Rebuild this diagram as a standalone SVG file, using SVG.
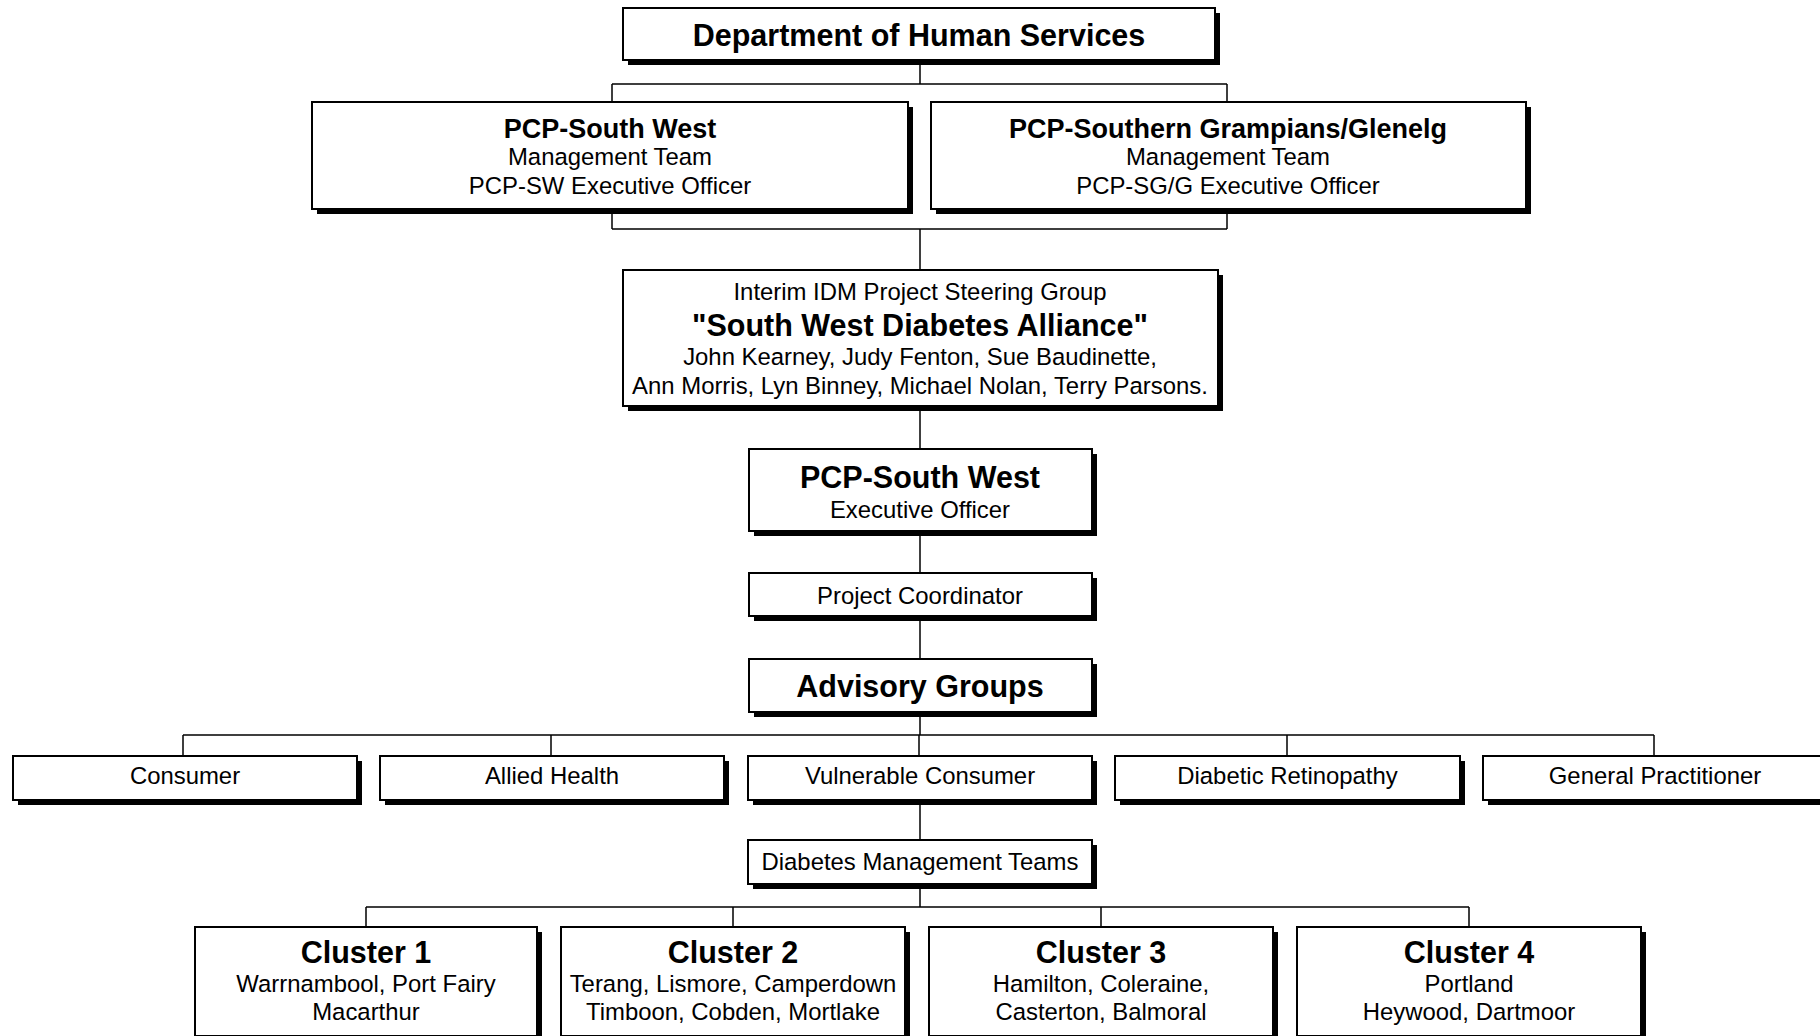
<svg xmlns="http://www.w3.org/2000/svg" width="1820" height="1036" viewBox="0 0 1820 1036">
<style>
.sh{fill:#000}
.bx{fill:#fff;stroke:#000;stroke-width:2}
.conn{fill:none;stroke:#000;stroke-width:1.5}
text{font-family:"Liberation Sans",Arial,Helvetica,sans-serif;text-anchor:middle;fill:#000}
.r{font-size:23.9px}
.b27{font-size:27px;font-weight:bold}
.b30{font-size:30.5px;font-weight:bold}
</style>
<rect width="1820" height="1036" fill="#fff"/>
<g id="connectors" class="conn">
<path d="M920 60V84M612 84H1227M612 84V102M1227 84V102"/>
<path d="M612 209V229M1227 209V229M612 229H1227M920 229V270"/>
<path d="M920 406V449"/>
<path d="M920 531V573"/>
<path d="M920 616V659"/>
<path d="M920 712V735M183 735H1654M183 735V756M551 735V756M919 735V756M1287 735V756M1654 735V756"/>
<path d="M920 800V840"/>
<path d="M920 884V907M366 907H1469M366 907V927M733 907V927M1101 907V927M1469 907V927"/>
</g>
<g id="dept">
<rect class="sh" x="628" y="13" width="592" height="52"/><rect class="bx" x="623" y="8" width="592" height="52"/>
<text class="b30" x="919" y="45.5">Department of Human Services</text>
</g>
<g id="pcp-sw">
<rect class="sh" x="317" y="107" width="596" height="107"/><rect class="bx" x="312" y="102" width="596" height="107"/>
<text class="b27" x="610" y="137.5">PCP-South West</text>
<text class="r" x="610" y="165">Management Team</text>
<text class="r" x="610" y="194">PCP-SW Executive Officer</text>
</g>
<g id="pcp-sg">
<rect class="sh" x="936" y="107" width="595" height="107"/><rect class="bx" x="931" y="102" width="595" height="107"/>
<text class="b27" x="1228" y="137.5">PCP-Southern Grampians/Glenelg</text>
<text class="r" x="1228" y="165">Management Team</text>
<text class="r" x="1228" y="194">PCP-SG/G Executive Officer</text>
</g>
<g id="steering">
<rect class="sh" x="628" y="275" width="595" height="136"/><rect class="bx" x="623" y="270" width="595" height="136"/>
<text class="r" x="920" y="299.5">Interim IDM Project Steering Group</text>
<text class="b30" x="920" y="336">"South West Diabetes Alliance"</text>
<text class="r" x="920" y="364.5">John Kearney, Judy Fenton, Sue Baudinette,</text>
<text class="r" x="920" y="393.5">Ann Morris, Lyn Binney, Michael Nolan, Terry Parsons.</text>
</g>
<g id="exec">
<rect class="sh" x="754" y="454" width="343" height="82"/><rect class="bx" x="749" y="449" width="343" height="82"/>
<text class="b30" x="920" y="488">PCP-South West</text>
<text class="r" x="920" y="518">Executive Officer</text>
</g>
<g id="coord">
<rect class="sh" x="754" y="578" width="343" height="43"/><rect class="bx" x="749" y="573" width="343" height="43"/>
<text class="r" x="920" y="603.5">Project Coordinator</text>
</g>
<g id="advisory">
<rect class="sh" x="754" y="664" width="343" height="53"/><rect class="bx" x="749" y="659" width="343" height="53"/>
<text class="b30" x="920" y="697">Advisory Groups</text>
</g>
<g id="consumer">
<rect class="sh" x="18" y="761" width="344" height="44"/><rect class="bx" x="13" y="756" width="344" height="44"/>
<text class="r" x="185" y="783.5">Consumer</text>
</g>
<g id="allied">
<rect class="sh" x="385" y="761" width="344" height="44"/><rect class="bx" x="380" y="756" width="344" height="44"/>
<text class="r" x="552" y="783.5">Allied Health</text>
</g>
<g id="vulnerable">
<rect class="sh" x="753" y="761" width="344" height="44"/><rect class="bx" x="748" y="756" width="344" height="44"/>
<text class="r" x="920" y="783.5">Vulnerable Consumer</text>
</g>
<g id="retinopathy">
<rect class="sh" x="1120" y="761" width="345" height="44"/><rect class="bx" x="1115" y="756" width="345" height="44"/>
<text class="r" x="1287.5" y="783.5">Diabetic Retinopathy</text>
</g>
<g id="gp">
<rect class="sh" x="1488" y="761" width="344" height="44"/><rect class="bx" x="1483" y="756" width="344" height="44"/>
<text class="r" x="1655" y="783.5">General Practitioner</text>
</g>
<g id="dmt">
<rect class="sh" x="753" y="845" width="344" height="44"/><rect class="bx" x="748" y="840" width="344" height="44"/>
<text class="r" x="920" y="869.5">Diabetes Management Teams</text>
</g>
<g id="cluster1">
<rect class="sh" x="200" y="932" width="342" height="109"/><rect class="bx" x="195" y="927" width="342" height="109"/>
<text class="b30" x="366" y="963">Cluster 1</text>
<text class="r" x="366" y="992">Warrnambool, Port Fairy</text>
<text class="r" x="366" y="1020">Macarthur</text>
</g>
<g id="cluster2">
<rect class="sh" x="566" y="932" width="344" height="109"/><rect class="bx" x="561" y="927" width="344" height="109"/>
<text class="b30" x="733" y="963">Cluster 2</text>
<text class="r" x="733" y="992">Terang, Lismore, Camperdown</text>
<text class="r" x="733" y="1020">Timboon, Cobden, Mortlake</text>
</g>
<g id="cluster3">
<rect class="sh" x="934" y="932" width="344" height="109"/><rect class="bx" x="929" y="927" width="344" height="109"/>
<text class="b30" x="1101" y="963">Cluster 3</text>
<text class="r" x="1101" y="992">Hamilton, Coleraine,</text>
<text class="r" x="1101" y="1020">Casterton, Balmoral</text>
</g>
<g id="cluster4">
<rect class="sh" x="1302" y="932" width="344" height="109"/><rect class="bx" x="1297" y="927" width="344" height="109"/>
<text class="b30" x="1469" y="963">Cluster 4</text>
<text class="r" x="1469" y="992">Portland</text>
<text class="r" x="1469" y="1020">Heywood, Dartmoor</text>
</g>
</svg>
